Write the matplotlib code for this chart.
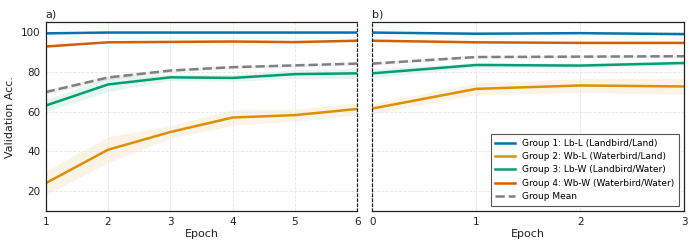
import numpy as np
import matplotlib.pyplot as plt

# epochs for the two panels
epochs_a = [1, 2, 3, 4, 5, 6]
epochs_b = [0, 1, 2, 3]

labels = ["Group 1: Lb-L (Landbird/Land)", "Group 2: Wb-L (Waterbird/Land)",
          "Group 3: Lb-W (Landbird/Water)", "Group 4: Wb-W (Waterbird/Water)"]
colors = ["#0173b2", "#de8f05", "#029e73", "#d55e00"]

# panel a) mean and spread per group
g1_a = [99.3, 99.7, 99.7, 99.7, 99.7, 99.7]
g2_a = [24.0, 40.8, 49.7, 57.0, 58.2, 61.3]
g3_a = [63.0, 73.6, 77.2, 76.9, 78.8, 79.2]
g4_a = [92.7, 94.8, 95.0, 95.2, 94.9, 95.6]
mean_a = [69.8, 77.1, 80.6, 82.3, 83.2, 84.1]
g1_a_sd = [0.4, 0.3, 0.3, 0.3, 0.3, 0.3]
g2_a_sd = [6.0, 6.5, 3.2, 4.0, 3.0, 3.0]
g3_a_sd = [3.0, 3.5, 1.6, 1.7, 2.2, 2.5]
g4_a_sd = [0.6, 0.4, 0.4, 0.4, 0.4, 0.5]
mean_a_sd = [1.2, 1.0, 0.8, 0.8, 0.7, 0.7]

# panel b)
g1_b = [99.7, 99.1, 99.4, 98.9]
g2_b = [61.5, 71.4, 73.1, 72.6]
g3_b = [79.2, 83.4, 83.1, 84.4]
g4_b = [95.6, 94.8, 94.5, 94.5]
mean_b = [84.1, 87.4, 87.6, 87.8]
g1_b_sd = [0.3, 0.3, 0.3, 0.3]
g2_b_sd = [2.5, 3.0, 3.5, 4.0]
g3_b_sd = [2.2, 1.2, 1.2, 1.2]
g4_b_sd = [0.5, 0.5, 0.5, 0.5]
mean_b_sd = [0.7, 0.6, 0.6, 0.6]

plt.rcParams['font.family'] = ['DejaVu Sans']

fig = plt.figure(figsize=(6.98, 2.49), dpi=100)
ax_a = fig.add_axes([0.0655, 0.1526, 0.4464, 0.759])
ax_b = fig.add_axes([0.5334, 0.1526, 0.447, 0.759])

panels = [
    (ax_a, epochs_a, [g1_a, g2_a, g3_a, g4_a], [g1_a_sd, g2_a_sd, g3_a_sd, g4_a_sd], mean_a, mean_a_sd, "a)"),
    (ax_b, epochs_b, [g1_b, g2_b, g3_b, g4_b], [g1_b_sd, g2_b_sd, g3_b_sd, g4_b_sd], mean_b, mean_b_sd, "b)"),
]

for ax, x, groups, sds, mean, mean_sd, title in panels:
    x = np.array(x)
    for vals, sd, c, lab in zip(groups, sds, colors, labels):
        vals = np.array(vals)
        sd = np.array(sd)
        ax.fill_between(x, vals - sd, vals + sd, color=c, alpha=0.1, lw=0)
        ax.plot(x, vals, color=c, lw=1.8, label=lab)
    mean = np.array(mean)
    mean_sd = np.array(mean_sd)
    ax.fill_between(x, mean - mean_sd, mean + mean_sd, color="gray", alpha=0.12, lw=0)
    ax.plot(x, mean, color="gray", lw=1.8, ls="--", label="Group Mean")

    ax.set_xlim(x[0], x[-1])
    ax.set_xticks(x)
    ax.set_ylim(10, 105)
    ax.set_yticks([20, 40, 60, 80, 100])
    ax.grid(True, color="#e6e6e6", ls="--", lw=0.6)
    ax.tick_params(labelsize=7.5, length=0, pad=4, colors="#222222")
    ax.set_xlabel("Epoch", fontsize=8, labelpad=2, color="#222222")
    ax.set_title(title, loc="left", fontsize=8, pad=3, color="#222222")
    for s in ax.spines.values():
        s.set_color("#222222")
        s.set_linewidth(0.9)

ax_a.set_ylabel("Validation Acc.", fontsize=8, color="#222222")
ax_a.spines["right"].set_linestyle((0, (2, 2)))
ax_b.spines["left"].set_linestyle((0, (2, 2)))
ax_b.set_yticklabels([])

leg = ax_b.legend(loc="lower right", fontsize=6.5, frameon=True, fancybox=False,
                  borderaxespad=0.6, handlelength=2.2, labelspacing=0.48,
                  borderpad=0.5)
leg.get_frame().set_edgecolor("#555555")
leg.get_frame().set_linewidth(0.8)
leg.get_frame().set_alpha(1.0)

fig.savefig("out.png", dpi=100)
